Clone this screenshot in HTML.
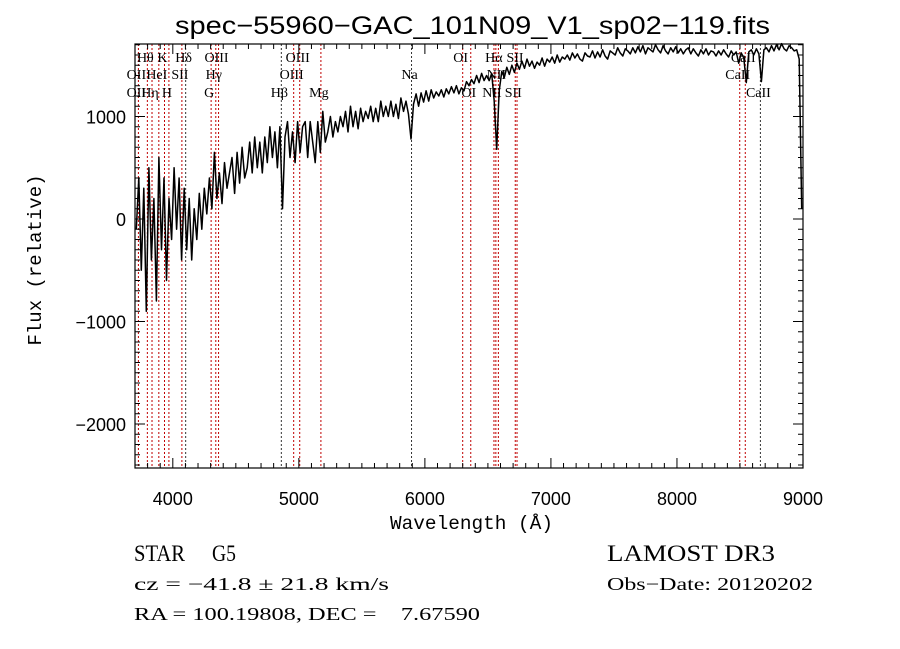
<!DOCTYPE html>
<html><head><meta charset="utf-8"><style>
html,body{margin:0;padding:0;background:#fff;}
svg{display:block;}
text{fill:#000;}
</style></head>
<body>
<svg id="chart" width="900" height="649" viewBox="0 0 900 649" xmlns="http://www.w3.org/2000/svg">
<rect x="0" y="0" width="900" height="649" fill="#fff"/>
<text x="175" y="34" textLength="595" lengthAdjust="spacingAndGlyphs" font-family="Liberation Sans, sans-serif" font-size="25">spec−55960−GAC_101N09_V1_sp02−119.fits</text>
<g id="lines"></g>
<g id="labels" font-family="Liberation Serif, serif" font-size="14"></g>
<g id="series"></g>
<g id="axes"></g>
<text x="390" y="529" textLength="163" lengthAdjust="spacingAndGlyphs" font-family="Liberation Mono, monospace" font-size="19">Wavelength (Å)</text>
<text transform="translate(41,260) rotate(-90)" font-family="Liberation Mono, monospace" font-size="19" text-anchor="middle">Flux (relative)</text>
<text x="134" y="561" font-family="Liberation Serif, serif" font-size="23" textLength="51" lengthAdjust="spacingAndGlyphs">STAR</text>
<text x="212" y="561" font-family="Liberation Serif, serif" font-size="23" textLength="24" lengthAdjust="spacingAndGlyphs">G5</text>
<text x="607" y="561" font-family="Liberation Serif, serif" font-size="23" textLength="168" lengthAdjust="spacingAndGlyphs">LAMOST DR3</text>
<text x="134" y="590" font-family="Liberation Serif, serif" font-size="18" textLength="255" lengthAdjust="spacingAndGlyphs">cz = −41.8 ± 21.8 km/s</text>
<text x="607" y="590" font-family="Liberation Serif, serif" font-size="18" textLength="206" lengthAdjust="spacingAndGlyphs">Obs−Date: 20120202</text>
<text x="134" y="620" font-family="Liberation Serif, serif" font-size="18" textLength="346" lengthAdjust="spacingAndGlyphs" xml:space="preserve">RA = 100.19808, DEC =    7.67590</text>
</svg>
<script>
const xTicks = [4000, 5000, 6000, 7000, 8000, 9000];
const yTicks = [-2000, -1000, 0, 1000];
const lineWaves = [3727,3798,3835,3889,3934,3969,4072,4102,4304,4341,4363,4861,4959,5007,5175,5894,6300,6364,6548,6563,6583,6717,6731,8498,8542,8662];
const lineDark = [4102,4861,5894,8662];
const labelNames = ["Hθ","K","Hδ","OIII","OIII","OI","Hα","SII","CaII","OII","HeI","SII","Hγ","OIII","Na","NII","CaII","OII","Hη","H","G","Hβ","Mg","OI","NII","SII","CaII"];
const labelWaves = [3798,3934,4102,4363,5007,6300,6563,6731,8542,3727,3889,4072,4341,4959,5894,6583,8498,3727,3835,3969,4304,4861,5175,6364,6548,6717,8662];
const labelRows = [0,0,0,0,0,0,0,0,0,1,1,1,1,1,1,1,1,2,2,2,2,2,2,2,2,2,2];
const waveStart = 3710, waveStep = 20;
const flux = [
-100,400,-500,300,-900,500,-400,200,-800,600,
-300,400,-600,200,-200,500,-100,400,-400,300,
-300,200,-400,100,-200,250,-100,300,50,400,
100,650,200,450,150,550,300,450,600,250,
650,350,700,400,500,750,450,800,500,750,
450,800,550,900,600,850,500,900,100,800,
950,600,850,550,950,650,900,950,600,950,
750,550,950,650,1050,750,850,1000,800,950,
850,1000,900,1050,850,1100,900,1050,880,1080,
950,1050,980,1100,950,1080,950,1150,1000,1100,
1000,1150,1000,1120,980,1180,1050,1150,1020,780,
1120,1220,1100,1230,1140,1250,1150,1260,1180,1240,
1200,1260,1190,1270,1220,1290,1230,1300,1220,1280,
1250,1340,1300,1360,1320,1400,1330,1420,1350,1400,
1350,1420,1150,680,1250,1440,1380,1480,1410,1500,
1430,1520,1460,1540,1470,1560,1490,1540,1470,1530,
1500,1570,1490,1560,1530,1580,1520,1600,1530,1580,
1560,1600,1550,1620,1570,1610,1560,1540,1620,1590,
1580,1640,1570,1630,1580,1650,1590,1560,1640,1620,
1600,1670,1620,1590,1660,1640,1610,1670,1620,1680,
1630,1690,1610,1670,1650,1630,1700,1650,1620,1690,
1640,1610,1670,1630,1680,1620,1660,1610,1650,1670,
1610,1660,1620,1590,1650,1610,1660,1600,1640,1630,
1590,1640,1600,1650,1610,1580,1640,1600,1630,1520,
1620,1570,1330,1630,1650,1600,1660,1610,1340,1650,
1670,1630,1690,1640,1700,1650,1710,1660,1640,1690,
1670,1640,1650,1560,100
];
const PL=135, PR=803, PT=44, PB=468;
const XMIN=3700, XMAX=9000, YMIN=-2429, YMAX=1707;
function xs(v){return PL+(v-XMIN)/(XMAX-XMIN)*(PR-PL);}
function ys(v){return PB-(v-YMIN)/(YMAX-YMIN)*(PB-PT);}
const NS="http://www.w3.org/2000/svg";
function mk(tag, attrs, parent){const e=document.createElementNS(NS,tag);for(const k in attrs)e.setAttribute(k,attrs[k]);parent.appendChild(e);return e;}

const gL=document.getElementById('lines');
lineWaves.forEach(w=>{
  const dark=lineDark.indexOf(w)>=0;
  const l=mk('line',{x1:xs(w),x2:xs(w),y1:PT,y2:PB,stroke:dark?'#333':'#c00000','stroke-width':1,'stroke-dasharray':'2,2'},gL);
  
  
});
const gT=document.getElementById('labels');
const rowY=[62,79,97];
labelNames.forEach((n,i)=>{
  const t=mk('text',{x:xs(labelWaves[i])-2,y:rowY[labelRows[i]],'text-anchor':'middle'},gT);
  t.textContent=n;
  
  
});
const gS=document.getElementById('series');
let d='';
flux.forEach((f,i)=>{const w=waveStart+i*waveStep;d+=(i?'L':'M')+xs(w).toFixed(1)+','+ys(f).toFixed(1);});
const p=mk('path',{d:d,fill:'none',stroke:'#000','stroke-width':1.5,'stroke-linejoin':'round'},gS);



const gA=document.getElementById('axes');
const frame=mk('rect',{x:PL,y:PT,width:PR-PL,height:PB-PT,fill:'none',stroke:'#000','stroke-width':1.2},gA);


let td='';
for(let w=3700;w<=9000;w+=100){const x=xs(w);const len=(w%1000===0)?10:5;td+=`M${x},${PB}v${-len}M${x},${PT}v${len}`;}
for(let v=-2400;v<=1700;v+=100){const y=ys(v);const len=(v%1000===0)?10:5;td+=`M${PL},${y}h${len}M${PR},${y}h${-len}`;}
const ticks=mk('path',{d:td,stroke:'#000','stroke-width':1,fill:'none'},gA);


xTicks.forEach(w=>{
  const t=mk('text',{x:xs(w),y:505,'text-anchor':'middle','font-family':'Liberation Sans, sans-serif','font-size':18},gA);
  t.textContent=w;
  
  
});
yTicks.forEach(v=>{
  const t=mk('text',{x:126,y:ys(v)+7,'text-anchor':'end','font-family':'Liberation Sans, sans-serif','font-size':18},gA);
  t.textContent=(v<0?'−':'')+Math.abs(v);
  
  
});
</script>
</body></html>
